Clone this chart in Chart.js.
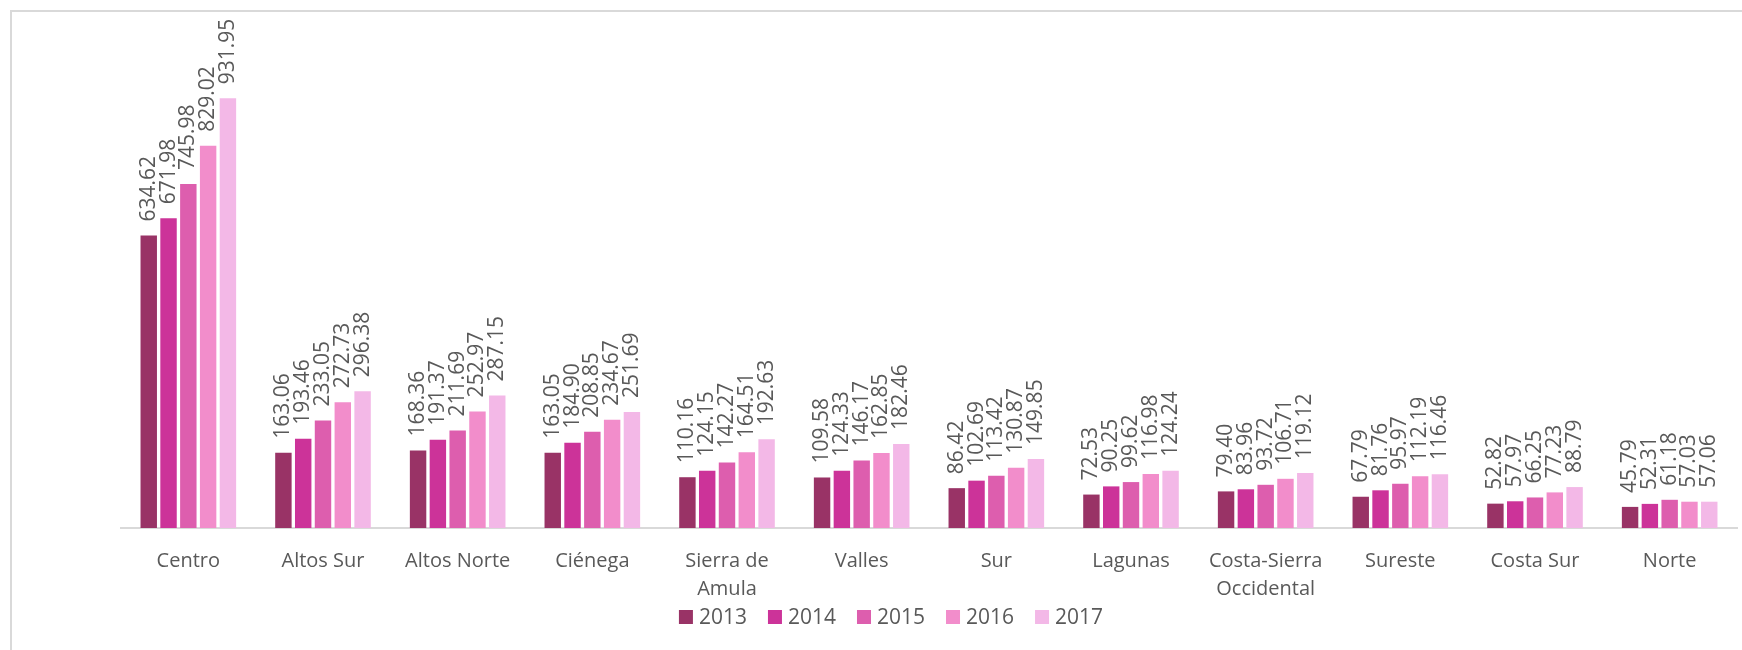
<!DOCTYPE html>
<html>
<head>
<meta charset="utf-8">
<script src="https://cdn.jsdelivr.net/npm/chart.js@4.4.0/dist/chart.umd.min.js"></script>
<style>
  html, body { margin: 0; padding: 0; background: #ffffff; }
  canvas { display: block; }
</style>
</head>
<body>
<canvas id="chart" width="1742" height="650"></canvas>
<script>
// Regions and yearly values
const regions = ['Centro', 'Altos Sur', 'Altos Norte', 'Ciénega', ['Sierra de', 'Amula'], 'Valles', 'Sur',
    'Lagunas', ['Costa-Sierra', 'Occidental'], 'Sureste', 'Costa Sur', 'Norte'];
const years = ['2013', '2014', '2015', '2016', '2017'];
const values2013 = [634.62, 163.06, 168.36, 163.05, 110.16, 109.58, 86.42, 72.53, 79.40, 67.79, 52.82, 45.79];
const values2014 = [671.98, 193.46, 191.37, 184.90, 124.15, 124.33, 102.69, 90.25, 83.96, 81.76, 57.97, 52.31];
const values2015 = [745.98, 233.05, 211.69, 208.85, 142.27, 146.17, 113.42, 99.62, 93.72, 95.97, 66.25, 61.18];
const values2016 = [829.02, 272.73, 252.97, 234.67, 164.51, 162.85, 130.87, 116.98, 106.71, 112.19, 77.23, 57.03];
const values2017 = [931.95, 296.38, 287.15, 251.69, 192.63, 182.46, 149.85, 124.24, 119.12, 116.46, 88.79, 57.06];
const colors = ['#993366', '#cc3399', '#dd5eae', '#f28dcb', '#f3b8e7'];

const allValues = [values2013, values2014, values2015, values2016, values2017];
const textColor = '#595959';
const fontFamily = '"Open Sans", "Noto Sans", sans-serif';

// Grey frame around the chart (only top and left are visible in the reference)
const framePlugin = {
    id: 'frame',
    beforeDraw(chart) {
        const ctx = chart.ctx;
        ctx.save();
        ctx.fillStyle = '#ffffff';
        ctx.fillRect(0, 0, chart.width, chart.height);
        ctx.strokeStyle = '#d9d9d9';
        ctx.lineWidth = 2;
        ctx.strokeRect(11, 11, chart.width + 20, chart.height + 20);
        ctx.restore();
    }
};

// Vertical value labels above every bar
const valueLabels = {
    id: 'valueLabels',
    afterDatasetsDraw(chart) {
        const ctx = chart.ctx;
        ctx.save();
        ctx.fillStyle = textColor;
        ctx.font = '21px ' + fontFamily;
        ctx.textAlign = 'left';
        ctx.textBaseline = 'middle';
        chart.data.datasets.forEach((ds, i) => {
            chart.getDatasetMeta(i).data.forEach((bar, j) => {
                ctx.save();
                ctx.translate(bar.x, bar.y - 14);
                ctx.rotate(-Math.PI / 2);
                ctx.fillText(ds.data[j].toFixed(2), 0, 0);
                ctx.restore();
            });
        });
        ctx.restore();
    }
};

// Legend drawn under the axis labels
const bottomLegend = {
    id: 'bottomLegend',
    afterDraw(chart) {
        const ctx = chart.ctx;
        const box = 14, gapText = 6, gapItem = 21;
        ctx.save();
        ctx.font = '21px ' + fontFamily;
        ctx.textBaseline = 'middle';
        ctx.textAlign = 'left';
        const widths = chart.data.datasets.map(ds => ctx.measureText(ds.label).width);
        let total = widths.reduce((a, w) => a + box + gapText + w, 0) + gapItem * (widths.length - 1);
        let x = 891 - total / 2;
        const y = 617;
        chart.data.datasets.forEach((ds, i) => {
            ctx.fillStyle = ds.backgroundColor;
            ctx.fillRect(x, y - box / 2, box, box);
            ctx.fillStyle = textColor;
            ctx.fillText(ds.label, x + box + gapText, y + 1);
            x += box + gapText + widths[i] + gapItem;
        });
        ctx.restore();
    }
};

const data = {
    labels: regions,
    datasets: years.map((year, i) => ({
        label: year,
        data: allValues[i],
        backgroundColor: colors[i],
        categoryPercentage: 0.735,
        barPercentage: 0.83,
    })),
};

const config = {
    type: 'bar',
    data: data,
    options: {
        responsive: false,
        devicePixelRatio: 1,
        animation: false,
        layout: {
            padding: { top: 67, left: 121, right: 5, bottom: 0 },
        },
        scales: {
            x: {
                grid: { display: false, drawTicks: false },
                border: { display: true, color: '#d9d9d9', width: 2 },
                ticks: {
                    color: textColor,
                    font: { family: fontFamily, size: 20, lineHeight: '28px' },
                    padding: 19,
                    maxRotation: 0,
                    autoSkip: false,
                },
                afterFit(scale) {
                    scale.height = 122;
                },
            },
            y: {
                display: false,
                min: 0,
                max: 1000,
            },
        },
        plugins: {
            legend: { display: false },
            tooltip: { enabled: false },
        },
    },
    plugins: [framePlugin, valueLabels, bottomLegend],
};

new Chart(document.getElementById('chart'), config);
</script>
</body>
</html>
